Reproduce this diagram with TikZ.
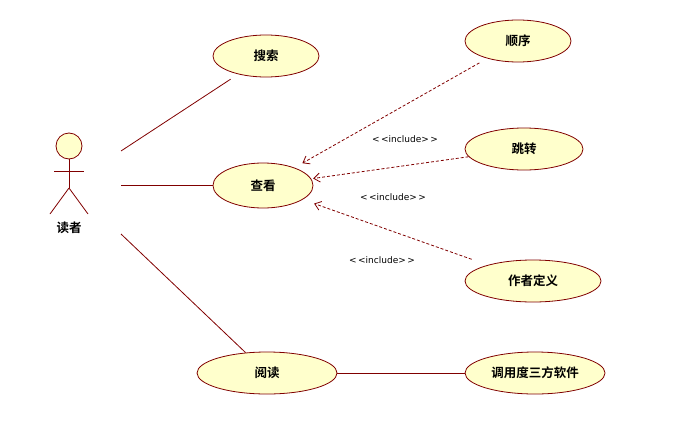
\documentclass[tikz,border=0pt]{standalone}
\usepackage{fontspec}
\setmainfont{DejaVu Sans}
\newfontfamily\cjkbold[BoldFont={Noto Sans CJK SC Bold}]{Noto Sans CJK SC Bold}
\usetikzlibrary{shapes.geometric, arrows.meta}

\definecolor{ucfill}{RGB}{255,255,204}
\definecolor{ucline}{RGB}{128,0,0}

\begin{document}
\begin{tikzpicture}[
    x=1pt, y=-1pt,
    usecase/.style={ellipse, draw=ucline, fill=ucfill, line width=0.8pt, inner sep=0pt, font=\cjkbold\fontsize{12.5}{14}\selectfont},
    stick/.style={draw=ucline, line width=0.8pt},
    assoc/.style={draw=ucline, line width=0.8pt},
    incl/.style={-{Straight Barb[length=6pt, width=9pt]}, draw=ucline, line width=0.8pt, dash pattern=on 3pt off 2pt},
    stereo/.style={font=\fontsize{9}{10}\selectfont, inner sep=0pt}
]
\useasboundingbox (0,0) rectangle (690,428);

% Actor
\node[circle, draw=ucline, fill=ucfill, line width=0.8pt, minimum size=26pt, inner sep=0pt] (reader) at (69,146) {};
\coordinate (hip) at (69,188);
\draw[stick] (reader.south) -- (hip);
\draw[stick] (54,171) -- (84,171);
\draw[stick] (hip) -- (50,214);
\draw[stick] (hip) -- (88,214);
\node[font=\cjkbold\fontsize{12.5}{14}\selectfont, inner sep=0pt] (readerlabel) at (69,227.5) {读者};

% Use cases
\node[usecase, minimum width=106pt, minimum height=42pt] (search) at (266,56) {搜索};
\node[usecase, minimum width=100pt, minimum height=45pt] (view) at (263,185.5) {查看};
\node[usecase, minimum width=140pt, minimum height=42pt] (read) at (267,373) {阅读};
\node[usecase, minimum width=106pt, minimum height=42pt] (order) at (518,41) {顺序};
\node[usecase, minimum width=118pt, minimum height=42pt] (jump) at (524,149) {跳转};
\node[usecase, minimum width=136pt, minimum height=42pt] (define) at (533,281) {作者定义};
\node[usecase, minimum width=140pt, minimum height=42pt] (thirdparty) at (535,373) {调用度三方软件};

% Actor ends
\coordinate (r1) at (121,151);
\coordinate (r2) at (121,185.5);
\coordinate (r3) at (121,234);

% Associations
\draw[assoc, shorten >=9pt] (r1) -- (search);
\draw[assoc] (r2) -- (view);
\draw[assoc] (r3) -- (read);
\draw[assoc] (read) -- (thirdparty);

% Include
\draw[incl, shorten <=9pt, shorten >=9pt] (order) -- (view);
\draw[incl, shorten >=2pt] (jump) -- (view);
\draw[incl, shorten <=17pt, shorten >=12pt] (define) -- (view);

\node[stereo] (inc1) at (405,139) {\textless\,\textless include\textgreater\,\textgreater};
\node[stereo] (inc2) at (393,197) {\textless\,\textless include\textgreater\,\textgreater};
\node[stereo] (inc3) at (382,260) {\textless\,\textless include\textgreater\,\textgreater};

\end{tikzpicture}
\end{document}
